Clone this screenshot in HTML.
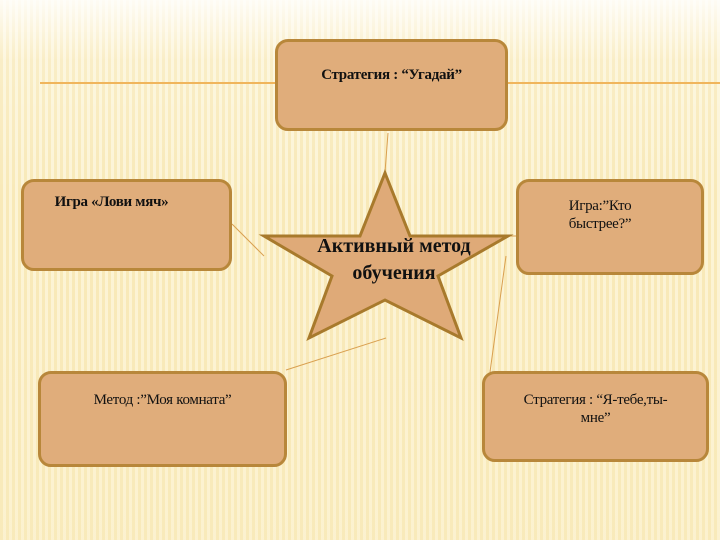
<!DOCTYPE html>
<html><head><meta charset="utf-8"><style>
body{margin:0;width:720px;height:540px;overflow:hidden;font-family:"Liberation Serif",serif;
background:repeating-linear-gradient(90deg,#f8e9b8 0 3px,#fcf4d6 3px 6px);}
.bg{position:absolute;inset:0;background:linear-gradient(180deg,rgba(255,255,255,.85) 0,rgba(255,255,255,.2) 60px,rgba(255,255,255,0) 200px,rgba(250,235,190,.3) 540px);}
.b{position:absolute;background:#e0ad7b;border:3px solid #b8873a;border-radius:13px;box-sizing:border-box;text-align:center;font-weight:bold;font-size:15px;color:#111;line-height:18px;letter-spacing:-0.3px}
</style></head><body><div class="bg"></div>
<svg width="720" height="540" style="position:absolute;left:0;top:0">
<line x1="40" y1="83" x2="276" y2="83" stroke="#f0b55c" stroke-width="2"/>
<line x1="507" y1="83" x2="720" y2="83" stroke="#f0b55c" stroke-width="2"/>
<g stroke="#d9a050" stroke-width="1">
<line x1="388" y1="133" x2="385" y2="172"/>
<line x1="232" y1="224" x2="264" y2="256"/>
<line x1="508" y1="236" x2="517" y2="236"/>
<line x1="506" y1="256" x2="490" y2="372"/>
<line x1="286" y1="370" x2="386" y2="338"/>
</g>
<polygon points="385,173 410,236 508,236 438,276 461,338 385,300 309,338 332,276 264,236 360,236" fill="#dfaa78" stroke="#a87a2c" stroke-width="3" stroke-linejoin="miter"/>
<text x="394" y="252" text-anchor="middle" font-family="Liberation Serif, serif" font-weight="bold" font-size="20" fill="#111">Активный метод</text>
<text x="394" y="279" text-anchor="middle" font-family="Liberation Serif, serif" font-weight="bold" font-size="20" fill="#111">обучения</text>
</svg>
<div class="b" style="left:275px;top:39px;width:233px;height:92px;padding-top:24px">Стратегия : “Угадай”</div>
<div class="b" style="left:21px;top:179px;width:211px;height:92px;padding:11px 30px 0 0">Игра «Лови мяч»</div>
<div class="b" style="left:516px;top:179px;width:188px;height:96px;padding:15px 20px 0 0;font-weight:normal">Игра:”Кто<br>быстрее?”</div>
<div class="b" style="left:38px;top:371px;width:249px;height:96px;padding:17px 0 0 0;font-weight:normal">Метод :”Моя комната”</div>
<div class="b" style="left:482px;top:371px;width:227px;height:91px;padding:17px 0 0 0;font-weight:normal">Стратегия : “Я-тебе,ты-<br>мне”</div>
</body></html>
